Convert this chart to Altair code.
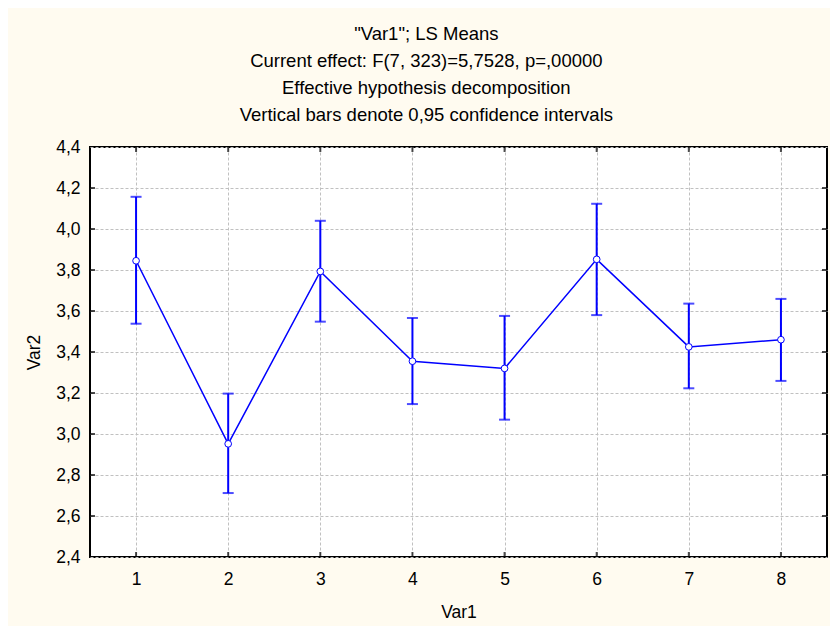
import altair as alt
import pandas as pd

# ---- data ----
levels = [1, 2, 3, 4, 5, 6, 7, 8]
means = [3.845, 2.952, 3.793, 3.355, 3.320, 3.852, 3.425, 3.460]
upper = [4.157, 3.197, 4.040, 3.566, 3.576, 4.123, 3.636, 3.659]
lower = [3.538, 2.712, 3.548, 3.146, 3.070, 3.580, 3.223, 3.259]

x_ticks = [1, 2, 3, 4, 5, 6, 7, 8]
y_ticks = [2.4, 2.6, 2.8, 3.0, 3.2, 3.4, 3.6, 3.8, 4.0, 4.2, 4.4]
x_domain = [0.5, 8.5]
y_domain = [2.4, 4.4]

title_lines = [
    '"Var1"; LS Means',
    "Current effect: F(7, 323)=5,7528, p=,00000",
    "Effective hypothesis decomposition",
    "Vertical bars denote 0,95 confidence intervals",
]

df = pd.DataFrame({"Var1": levels, "Var2": means, "lo": lower, "hi": upper})
xt = pd.DataFrame({"v": x_ticks})
yt = pd.DataFrame({"v": y_ticks[1:-1]})

BLUE = "#0000FF"
FONT = "Liberation Sans"

xscale = alt.Scale(domain=x_domain, nice=False, zero=False)
yscale = alt.Scale(domain=y_domain, nice=False, zero=False)
xaxis = alt.Axis(values=x_ticks, format="d", title="Var1")
yaxis = alt.Axis(
    values=y_ticks,
    title="Var2",
    labelExpr="replace(format(datum.value, '.1f'), '.', ',')",
)

X = alt.X("Var1:Q", scale=xscale, axis=xaxis)

base = alt.Chart(df)

bars = base.mark_rule(color=BLUE, strokeWidth=2).encode(
    x=X, y=alt.Y("lo:Q", scale=yscale, axis=yaxis), y2="hi:Q"
)
cap_hi = base.mark_tick(color=BLUE, orient="horizontal", size=11, thickness=2).encode(
    x=X, y=alt.Y("hi:Q", scale=yscale, axis=yaxis)
)
cap_lo = base.mark_tick(color=BLUE, orient="horizontal", size=11, thickness=2).encode(
    x=X, y=alt.Y("lo:Q", scale=yscale, axis=yaxis)
)
line = base.mark_line(color=BLUE, strokeWidth=1.5).encode(
    x=X, y=alt.Y("Var2:Q", scale=yscale, axis=yaxis)
)
pts = base.mark_point(
    shape="circle", size=45, filled=True, fill="white", stroke=BLUE,
    strokeWidth=1, opacity=1
).encode(x=X, y=alt.Y("Var2:Q", scale=yscale, axis=yaxis))

# inward frame ticks
tick_top = alt.Chart(xt).mark_tick(
    orient="vertical", size=5, thickness=2, color="black", yOffset=2.5
).encode(
    x=alt.X("v:Q", scale=xscale, axis=xaxis),
    y=alt.YDatum(y_domain[1], scale=yscale, axis=yaxis),
)
tick_bot = alt.Chart(xt).mark_tick(
    orient="vertical", size=5, thickness=2, color="black", yOffset=-2.5
).encode(
    x=alt.X("v:Q", scale=xscale, axis=xaxis),
    y=alt.YDatum(y_domain[0], scale=yscale, axis=yaxis),
)
tick_left = alt.Chart(yt).mark_tick(
    orient="horizontal", size=5, thickness=2, color="black", xOffset=2.5
).encode(
    y=alt.Y("v:Q", scale=yscale, axis=yaxis),
    x=alt.XDatum(x_domain[0], scale=xscale, axis=xaxis),
)
tick_right = alt.Chart(yt).mark_tick(
    orient="horizontal", size=5, thickness=2, color="black", xOffset=-2.5
).encode(
    y=alt.Y("v:Q", scale=yscale, axis=yaxis),
    x=alt.XDatum(x_domain[1], scale=xscale, axis=xaxis),
)

chart = (
    alt.layer(tick_top, tick_bot, tick_left, tick_right, bars, cap_hi, cap_lo, line, pts)
    .properties(
        width=737,
        height=410,
        autosize=alt.AutoSizeParams(type="none"),
        padding={"left": 82, "top": 139, "right": 3, "bottom": 69},
        background="#FFFBF0",
        title=alt.TitleParams(
            text=title_lines,
            anchor="middle",
            frame="bounds",
            fontSize=18.5,
            font=FONT,
            fontWeight="normal",
            color="black",
            lineHeight=27,
            offset=14,
        ),
    )
    .configure_view(stroke="black", strokeWidth=2, fill="white")
    .configure_axis(
        grid=True,
        gridColor="#C0C0C0",
        gridDash=[3, 2],
        gridWidth=1,
        domain=False,
        ticks=False,
        labelFont=FONT,
        labelFontSize=17.5,
        labelColor="black",
        titleFont=FONT,
        titleFontSize=17.5,
        titleFontWeight="normal",
        titleColor="black",
    )
    .configure_axisX(labelPadding=13, titlePadding=16)
    .configure_axisY(labelPadding=10, titlePadding=12)
)

chart.save("out.html", embed_options={"renderer": "svg", "actions": False})
